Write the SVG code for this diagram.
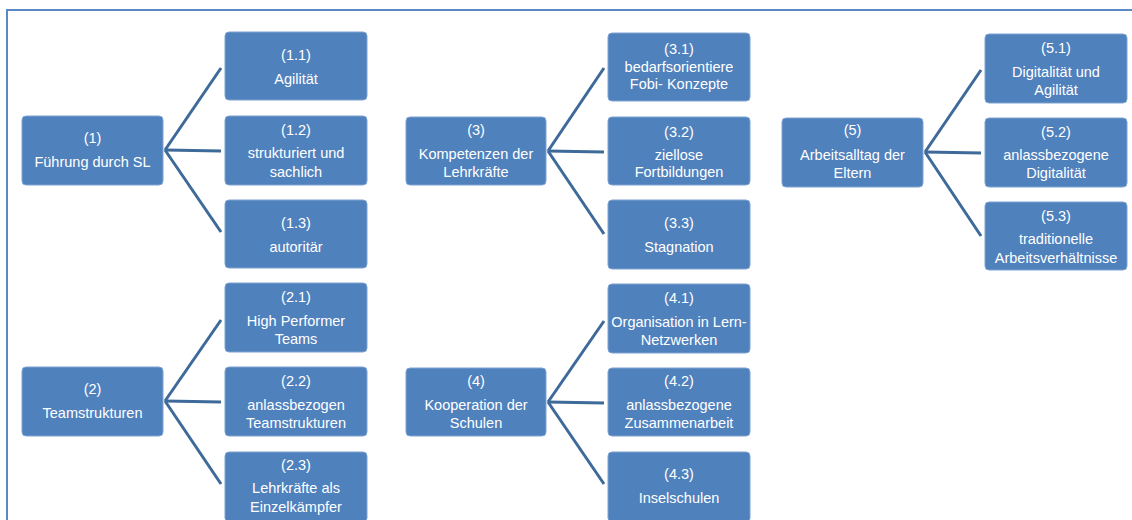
<svg xmlns="http://www.w3.org/2000/svg" width="1132" height="520" viewBox="0 0 1132 520">
  <style>
    .box { fill: #4F81BD; stroke: #7FA3D1; stroke-width: 1; }
    .t { font-family: "Liberation Sans", Arial, sans-serif; font-size: 14.5px; fill: #FFFFFF; text-anchor: middle; }
    .con line { stroke: #3E6A9A; stroke-width: 3; stroke-linecap: butt; }
    .frame { fill: none; stroke: #5A8AC6; stroke-width: 2; }
  </style>
  <rect x="0" y="0" width="1132" height="520" fill="#FFFFFF"/>
  <path class="frame" d="M7,520 V10 H1132"/>

  <!-- connectors -->
  <g id="connectors" class="con">
    <line x1="165" y1="150" x2="221" y2="68"/>
    <line x1="165" y1="150" x2="221" y2="151"/>
    <line x1="165" y1="150" x2="221" y2="232"/>
    <line x1="548" y1="151" x2="604" y2="68"/>
    <line x1="548" y1="151" x2="604" y2="152"/>
    <line x1="548" y1="151" x2="604" y2="234"/>
    <line x1="925" y1="152" x2="981" y2="70"/>
    <line x1="925" y1="152" x2="981" y2="153"/>
    <line x1="925" y1="152" x2="981" y2="236"/>
    <line x1="165" y1="401" x2="221" y2="320"/>
    <line x1="165" y1="401" x2="221" y2="402"/>
    <line x1="165" y1="401" x2="221" y2="484"/>
    <line x1="548" y1="402" x2="604" y2="321"/>
    <line x1="548" y1="402" x2="604" y2="403"/>
    <line x1="548" y1="402" x2="604" y2="484"/>
  </g>

  <!-- column 1 -->
  <g id="n1"><rect class="box" x="22" y="116" width="141" height="69" rx="4"/>
    <text class="t" x="92.5" y="143">(1)</text><text class="t" x="92.5" y="167">Führung durch SL</text></g>
  <g id="n1_1"><rect class="box" x="225" y="32" width="142" height="68" rx="4"/>
    <text class="t" x="296" y="60">(1.1)</text><text class="t" x="296" y="84">Agilität</text></g>
  <g id="n1_2"><rect class="box" x="225" y="116" width="142" height="69" rx="4"/>
    <text class="t" x="296" y="135">(1.2)</text><text class="t" x="296" y="158">strukturiert und</text><text class="t" x="296" y="177">sachlich</text></g>
  <g id="n1_3"><rect class="box" x="225" y="200" width="142" height="68" rx="4"/>
    <text class="t" x="296" y="228">(1.3)</text><text class="t" x="296" y="252">autoritär</text></g>

  <g id="n2"><rect class="box" x="22" y="367" width="141" height="69" rx="4"/>
    <text class="t" x="92.5" y="394">(2)</text><text class="t" x="92.5" y="418">Teamstrukturen</text></g>
  <g id="n2_1"><rect class="box" x="225" y="283" width="142" height="69" rx="4"/>
    <text class="t" x="296" y="302">(2.1)</text><text class="t" x="296" y="326">High Performer</text><text class="t" x="296" y="344">Teams</text></g>
  <g id="n2_2"><rect class="box" x="225" y="367" width="142" height="69" rx="4"/>
    <text class="t" x="296" y="386">(2.2)</text><text class="t" x="296" y="410">anlassbezogen</text><text class="t" x="296" y="428">Teamstrukturen</text></g>
  <g id="n2_3"><rect class="box" x="225" y="452" width="142" height="70" rx="4"/>
    <text class="t" x="296" y="470">(2.3)</text><text class="t" x="296" y="493">Lehrkräfte als</text><text class="t" x="296" y="512">Einzelkämpfer</text></g>

  <!-- column 2 -->
  <g id="n3"><rect class="box" x="406" y="117" width="140" height="68" rx="4"/>
    <text class="t" x="476" y="135">(3)</text><text class="t" x="476" y="159">Kompetenzen der</text><text class="t" x="476" y="177">Lehrkräfte</text></g>
  <g id="n3_1"><rect class="box" x="608" y="33" width="142" height="68" rx="4"/>
    <text class="t" x="679" y="54">(3.1)</text><text class="t" x="679" y="72">bedarfsorientiere</text><text class="t" x="679" y="89">Fobi- Konzepte</text></g>
  <g id="n3_2"><rect class="box" x="608" y="117" width="142" height="68" rx="4"/>
    <text class="t" x="679" y="137">(3.2)</text><text class="t" x="679" y="160">ziellose</text><text class="t" x="679" y="177">Fortbildungen</text></g>
  <g id="n3_3"><rect class="box" x="608" y="200" width="142" height="69" rx="4"/>
    <text class="t" x="679" y="228">(3.3)</text><text class="t" x="679" y="252">Stagnation</text></g>

  <g id="n4"><rect class="box" x="406" y="368" width="140" height="68" rx="4"/>
    <text class="t" x="476" y="386">(4)</text><text class="t" x="476" y="410">Kooperation der</text><text class="t" x="476" y="428">Schulen</text></g>
  <g id="n4_1"><rect class="box" x="608" y="284" width="142" height="69" rx="4"/>
    <text class="t" x="679" y="303">(4.1)</text><text class="t" x="679" y="327">Organisation in Lern-</text><text class="t" x="679" y="345">Netzwerken</text></g>
  <g id="n4_2"><rect class="box" x="608" y="368" width="142" height="68" rx="4"/>
    <text class="t" x="679" y="386">(4.2)</text><text class="t" x="679" y="410">anlassbezogene</text><text class="t" x="679" y="428">Zusammenarbeit</text></g>
  <g id="n4_3"><rect class="box" x="608" y="452" width="142" height="70" rx="4"/>
    <text class="t" x="679" y="479">(4.3)</text><text class="t" x="679" y="503">Inselschulen</text></g>

  <!-- column 3 -->
  <g id="n5"><rect class="box" x="782" y="118" width="141" height="69" rx="4"/>
    <text class="t" x="852.5" y="135">(5)</text><text class="t" x="852.5" y="160">Arbeitsalltag der</text><text class="t" x="852.5" y="178">Eltern</text></g>
  <g id="n5_1"><rect class="box" x="985" y="34" width="142" height="69" rx="4"/>
    <text class="t" x="1056" y="53">(5.1)</text><text class="t" x="1056" y="77">Digitalität und</text><text class="t" x="1056" y="95">Agilität</text></g>
  <g id="n5_2"><rect class="box" x="985" y="118" width="142" height="69" rx="4"/>
    <text class="t" x="1056" y="137">(5.2)</text><text class="t" x="1056" y="160">anlassbezogene</text><text class="t" x="1056" y="178">Digitalität</text></g>
  <g id="n5_3"><rect class="box" x="985" y="202" width="142" height="68" rx="4"/>
    <text class="t" x="1056" y="221">(5.3)</text><text class="t" x="1056" y="244">traditionelle</text><text class="t" x="1056" y="263">Arbeitsverhältnisse</text></g>
</svg>
